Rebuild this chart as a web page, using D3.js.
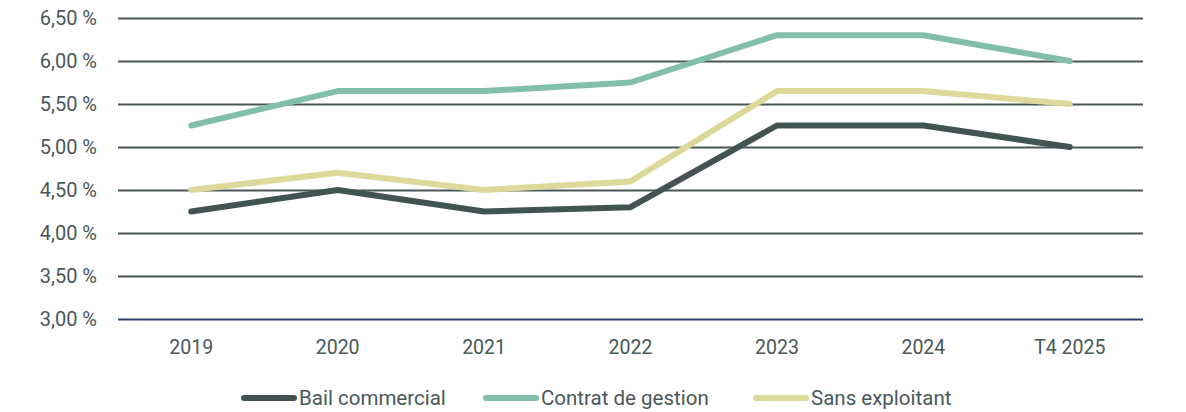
<!DOCTYPE html>
<html>
<head>
<meta charset="utf-8">
<script src="https://cdn.jsdelivr.net/npm/d3@7"></script>
<style>
  body { margin: 0; background: #fff; }
  text { font-family: Roboto, "Noto Sans", sans-serif; fill: #4a5757; }
</style>
</head>
<body>
<div id="chart"></div>
<script>
var categories = ["2019", "2020", "2021", "2022", "2023", "2024", "T4 2025"];
var bailCommercial = [4.25, 4.50, 4.25, 4.30, 5.25, 5.25, 5.00];
var contratGestion = [5.25, 5.65, 5.65, 5.75, 6.30, 6.30, 6.00];
var sansExploitant = [4.50, 4.70, 4.50, 4.60, 5.65, 5.65, 5.50];
var yTicks = [3.0, 3.5, 4.0, 4.5, 5.0, 5.5, 6.0, 6.5];

var series = [
  { name: "Bail commercial", values: bailCommercial, color: "#435352" },
  { name: "Contrat de gestion", values: contratGestion, color: "#82bfab" },
  { name: "Sans exploitant", values: sansExploitant, color: "#dcd99a" }
];

var width = 1186, height = 412;
var margin = { left: 118, right: 43, top: 18, bottom: 93 };

var svg = d3.select("#chart").append("svg")
    .attr("width", width)
    .attr("height", height);

var x = d3.scaleBand()
    .domain(categories)
    .range([margin.left, width - margin.right]);

var y = d3.scaleLinear()
    .domain([3, 6.5])
    .range([height - margin.bottom, margin.top]);

var fmt = function(d) { return d.toFixed(2).replace(".", ",") + " %"; };

// gridlines + y labels
var yAxis = svg.append("g")
    .attr("transform", "translate(" + margin.left + ",0)")
    .call(d3.axisLeft(y).tickValues(yTicks).tickFormat(fmt)
      .tickSize(-(width - margin.left - margin.right)).tickPadding(21));
yAxis.select(".domain").remove();
yAxis.selectAll(".tick line")
    .attr("stroke", function(d) { return d === 3 ? "#2f3f6b" : "#4a5757"; })
    .attr("stroke-width", 2);
yAxis.selectAll(".tick text")
    .style("font-size", "20px")
    .attr("fill", "#4a5757");

// x labels
var xAxis = svg.append("g")
    .attr("transform", "translate(0," + (height - margin.bottom) + ")")
    .call(d3.axisBottom(x).tickSize(0).tickPadding(21));
xAxis.select(".domain").remove();
xAxis.selectAll(".tick text")
    .style("font-size", "19.5px")
    .attr("fill", "#4a5757");

var line = d3.line()
    .x(function(d, i) { return x(categories[i]) + x.bandwidth() / 2; })
    .y(function(d) { return y(d); });

svg.selectAll(".serie")
    .data(series)
    .enter().append("path")
    .attr("class", "serie")
    .attr("fill", "none")
    .attr("stroke", function(d) { return d.color; })
    .attr("stroke-width", 6)
    .attr("stroke-linecap", "round")
    .attr("stroke-linejoin", "round")
    .attr("d", function(d) { return line(d.values); });

// legend
var legendX = [241, 483, 753];
var legend = svg.selectAll(".legend")
    .data(series)
    .enter().append("g")
    .attr("class", "legend")
    .attr("transform", function(d, i) { return "translate(" + legendX[i] + ",398)"; });

legend.append("line")
    .attr("x1", 3).attr("x2", 53)
    .attr("stroke", function(d) { return d.color; })
    .attr("stroke-width", 6)
    .attr("stroke-linecap", "round");

legend.append("text")
    .attr("x", 58)
    .attr("dy", "0.36em")
    .style("font-size", "20.5px")
    .text(function(d) { return d.name; });
</script>
</body>
</html>
